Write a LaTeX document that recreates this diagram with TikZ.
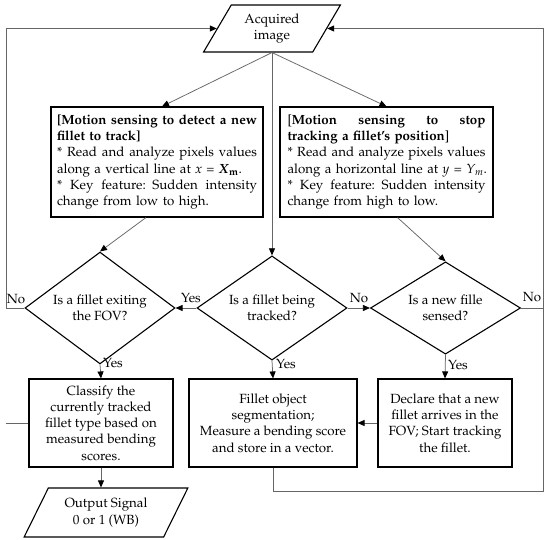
\documentclass[tikz,border=0pt]{standalone}
\usepackage[T1]{fontenc}
\usepackage{mathpazo}
\usetikzlibrary{arrows.meta,shapes.geometric,calc}
\newcommand\jl[2]{\makebox[#1][s]{\spaceskip=0.25em plus 1fil\relax #2}}
\begin{document}
\begin{tikzpicture}[x=1pt,y=-1pt,
  txt/.style={font=\fontsize{13.3}{16.3}\selectfont},
  box/.style={draw=black,line width=1.1pt,fill=white,rectangle,inner sep=0pt,txt},
  dia/.style={draw=black,line width=1.1pt,diamond,inner sep=-2pt,minimum width=150pt,minimum height=80pt,align=center,txt},
  io/.style={draw=black,line width=1.1pt,trapezium,trapezium left angle=60,trapezium right angle=120,trapezium stretches=true,align=center,txt},
  conn/.style={draw=black!60,line width=0.75pt},
  arr/.style={conn,-{Triangle[length=7pt,width=6pt,color=black]}},
  lab/.style={txt,inner sep=0pt}
]
\useasboundingbox[fill=white] (0,0) rectangle (550,540);

\node[io,minimum width=137pt,minimum height=47pt] (acq) at (272,28.5) {Acquired\\image};

\node[box,minimum width=212pt,minimum height=110pt,text width=200pt,align=left] (tl) at (157,162) {%
\jl{200pt}{\textbf{[Motion sensing to detect a new}}\\
\textbf{fillet to track]}\\
\jl{200pt}{* Read and analyze pixels values}\\
along a vertical line at \textit{x} = \textbf{\textit{X}\textsubscript{m}}.\\
\jl{200pt}{* Key feature: Sudden intensity}\\
change from low to high.};

\node[box,minimum width=213pt,minimum height=110pt,text width=198pt,align=left] (tr) at (386.5,162) {%
\jl{198pt}{[\textbf{Motion sensing to stop}}\\
\textbf{tracking a fillet's position}]\\
\jl{198pt}{* Read and analyze pixels values}\\
\mbox{along a horizontal line at \textit{y} = \textit{Y\textsubscript{m}}.}\\
\jl{198pt}{* Key feature: Sudden intensity}\\
change from high to low.};

\node[dia] (dl) at (100,308) {Is a fillet exiting\\the FOV?};
\node[dia] (dm) at (272,308) {Is a fillet being\\tracked?};
\node[dia] (dr) at (445.5,308) {Is a new fille\\sensed?};

\node[box,minimum width=144pt,minimum height=88pt,align=center] (cl) at (101,423) {Classify the\\currently tracked\\fillet type based on\\measured bending\\scores.};
\node[box,minimum width=168pt,minimum height=88pt,align=center] (seg) at (273,423) {Fillet object\\segmentation;\\Measure a bending score\\and store in a vector.};
\node[box,minimum width=134pt,minimum height=88pt,align=center] (dec) at (445,423) {Declare that a new\\fillet arrives in the\\FOV; Start tracking\\the fillet.};

\node[io,trapezium left angle=62,trapezium right angle=118,minimum width=164pt,minimum height=49pt] (out) at (106,512.5) {Output Signal\\0 or 1 (WB)};

\coordinate (lt) at (6,28.5);
\coordinate (rt) at (543,28.5);
\coordinate (rb) at (543,491);
\coordinate (acqb) at (acq.center |- acq.south);

\draw[arr] (acqb) -- ($(tl.north)+(5,0)$);
\draw[arr] (acqb) -- (tr.north);
\draw[arr] (acqb) -- (dm.north);
\draw[arr] ($(tl.south)+(-11,0)$) -- (dl.north);
\draw[arr] ($(tr.south)+(11,0)$) -- (dr.north);
\draw[arr] (dm.west) -- (dl.east);
\draw[arr] (dm.east) -- (dr.west);
\draw[arr] (dl.south) -- (cl.north);
\draw[arr] (dm.south) -- (seg.north);
\draw[arr] (dr.south) -- (dec.north);
\draw[arr] (dec.west) -- (seg.east);
\draw[arr] (cl.south) -- (cl.south |- out.north);
\draw[arr] (dl.west) -| (lt) -- (acq.left side);
\draw[conn] (cl.west) -- (cl.west -| lt);
\draw[arr] (dr.east) -| (rt) -- (acq.right side);
\draw[conn] (seg.south) |- (rb) -- (rb |- dr.east);

\node[lab] (n1) at (16,299) {No};
\node[lab] (y1) at (191,298) {Yes};
\node[lab] (n2) at (359,298) {No};
\node[lab] (n3) at (532,297) {No};
\node[lab,anchor=west] (y2) at (103,363) {Yes};
\node[lab,anchor=west] (y3) at (276,364) {Yes};
\node[lab,anchor=west] (y4) at (448,365) {Yes};
\end{tikzpicture}
\end{document}
